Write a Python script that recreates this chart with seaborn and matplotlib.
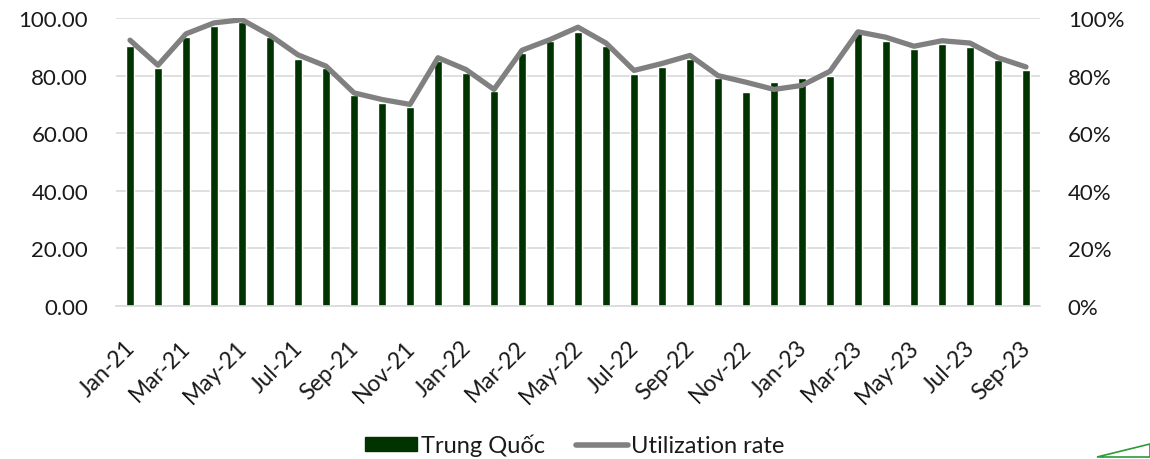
import numpy as np
import pandas as pd
import matplotlib
matplotlib.use("Agg")
import matplotlib.pyplot as plt
import matplotlib.transforms as mtransforms
import seaborn as sns
from matplotlib.patches import Patch, Polygon
from matplotlib.lines import Line2D

months = ["Jan-21","Feb-21","Mar-21","Apr-21","May-21","Jun-21","Jul-21","Aug-21","Sep-21","Oct-21","Nov-21","Dec-21",
          "Jan-22","Feb-22","Mar-22","Apr-22","May-22","Jun-22","Jul-22","Aug-22","Sep-22","Oct-22","Nov-22","Dec-22",
          "Jan-23","Feb-23","Mar-23","Apr-23","May-23","Jun-23","Jul-23","Aug-23","Sep-23"]
china = [90.2, 82.7, 93.3, 97.1, 98.5, 93.3, 85.9, 82.5, 73.1, 70.6, 69.2, 85.0,
         81.0, 74.6, 87.9, 91.9, 95.2, 90.2, 80.7, 82.9, 85.6, 79.0, 74.3, 77.7,
         79.3, 79.9, 95.6, 92.1, 89.3, 91.0, 89.8, 85.3, 81.9]
util = [92.3, 83.6, 94.5, 98.3, 99.4, 94.0, 87.2, 83.3, 74.0, 71.7, 70.0, 86.2,
        82.1, 75.2, 88.8, 92.5, 96.8, 91.3, 81.8, 84.2, 87.0, 80.0, 77.7, 75.2,
        76.6, 81.5, 95.2, 93.3, 90.2, 92.1, 91.3, 86.2, 83.0]

bar_color = "#003300"
line_color = "#808080"
grid_color = "#d9d9d9"
FS = 16

sns.set_style("white")
plt.rcParams["font.family"] = ["Lato", "DejaVu Sans"]
plt.rcParams["text.color"] = "#1a1a1a"
plt.rcParams["xtick.color"] = "#1a1a1a"
plt.rcParams["ytick.color"] = "#1a1a1a"

df = pd.DataFrame({"month": months, "china": china, "util": np.array(util) / 100, "pos": np.arange(len(months))})

fig = plt.figure(figsize=(11.5, 4.6), dpi=100)
ax = fig.add_axes([116/1150, 1 - 307/460, (1040-116)/1150, (307-19)/460])

sns.barplot(data=df, x="month", y="china", color=bar_color, width=0.32, saturation=1, ax=ax, zorder=2)
ax.set_ylim(0, 100)
ax.set_xlim(-0.5, len(months) - 0.5)
ax.set_yticks(np.arange(0, 101, 20))
ax.set_yticklabels([f"{v:.2f}" for v in np.arange(0, 101, 20)], fontsize=FS)
ax.yaxis.grid(True, color=grid_color, linewidth=1.2, zorder=0)
ax.set_axisbelow(True)
for s in ["top", "right", "left"]:
    ax.spines[s].set_visible(False)
ax.spines["bottom"].set_color(grid_color)
ax.spines["bottom"].set_linewidth(1.2)
ax.set_xlabel("")
ax.set_ylabel("")
ax.tick_params(axis="y", length=0, pad=20)

labels_pos = np.arange(0, len(months), 2)
ax.set_xticks(labels_pos)
ax.set_xticklabels([months[i] for i in labels_pos], rotation=45, ha="right", rotation_mode="anchor", fontsize=16.5)
ax.tick_params(axis="x", length=0, pad=22)
shift = mtransforms.ScaledTranslation(-6/100, 0, fig.dpi_scale_trans)
for lbl in ax.get_xticklabels():
    lbl.set_transform(lbl.get_transform() + shift)
ax.set_xticks(np.arange(-0.5, len(months), 2), minor=True)
ax.tick_params(axis="x", which="minor", length=6, color=grid_color, width=1.2)

ax2 = ax.twinx()
sns.lineplot(data=df, x="pos", y="util", color=line_color, linewidth=3.8, ax=ax2, zorder=3)
ax2.set_ylim(0, 1)
ax2.set_yticks(np.arange(0, 1.01, 0.2))
ax2.set_yticklabels([f"{int(round(v*100))}%" for v in np.arange(0, 1.01, 0.2)], fontsize=FS)
ax2.tick_params(axis="y", length=0, pad=20)
for s in ["top", "right", "left", "bottom"]:
    ax2.spines[s].set_visible(False)
ax2.set_ylabel("")
ax2.set_xlabel("")
ax2.set_xlim(-0.5, len(months) - 0.5)

handles = [Patch(facecolor=bar_color, edgecolor=bar_color),
           Line2D([0], [0], color=line_color, linewidth=4)]
fig.legend(handles, ["Trung Quốc", "Utilization rate"], loc="center", bbox_to_anchor=(0.5, 1 - 446/460),
           ncol=2, frameon=False, fontsize=17, handlelength=2.2, handleheight=0.55, handletextpad=0.15,
           columnspacing=1.3)

# small decorative corner mark
fig.patches.append(Polygon([[1097/1150, 2/460], [1150/1150, 15/460], [1150/1150, 2/460]], closed=True,
                           transform=fig.transFigure, facecolor="none", edgecolor="#2e9a3a", linewidth=1.2))

fig.savefig("out.png", dpi=100)
